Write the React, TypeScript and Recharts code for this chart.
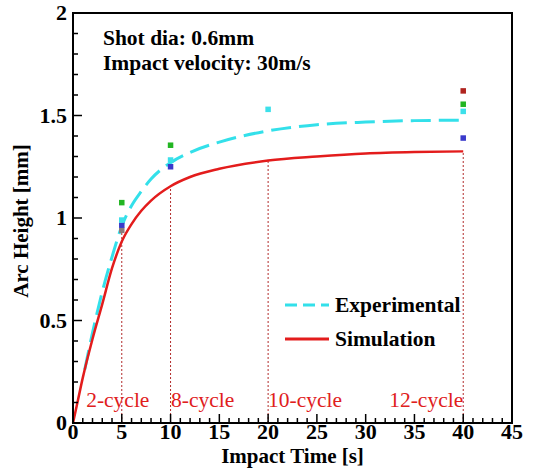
import React from "react"
import {
  ComposedChart,
  Line,
  Scatter,
  XAxis,
  YAxis,
  Legend,
  Label,
  ReferenceLine,
  ReferenceArea,
  ReferenceDot,
} from "recharts"

const FONT = '"Liberation Serif", "Times New Roman", serif'

// curve readings (time [s] -> arc height [mm])
const expTime = [1.2, 2, 3, 4, 5, 6, 7, 8, 10, 12, 15, 20, 25, 30, 35, 40]
const expHeight = [0.26, 0.44, 0.64, 0.81, 0.96, 1.06, 1.13, 1.19, 1.27, 1.32, 1.37, 1.425, 1.455, 1.468, 1.475, 1.477]

const simTime = [0, 0.5, 1, 2, 3, 4, 5, 6, 7, 8, 10, 12, 15, 20, 25, 30, 35, 40]
const simHeight = [0, 0.11, 0.22, 0.41, 0.58, 0.755, 0.885, 0.97, 1.035, 1.085, 1.155, 1.2, 1.24, 1.28, 1.3, 1.315, 1.322, 1.325]

// measured samples, one list per marker colour
const greenPts = [
  { t: 5, v: 1.075 },
  { t: 10, v: 1.355 },
  { t: 40, v: 1.555 },
]
const cyanPts = [
  { t: 5, v: 0.99 },
  { t: 10, v: 1.283 },
  { t: 20, v: 1.53 },
  { t: 40, v: 1.52 },
]
const bluePts = [
  { t: 5, v: 0.965 },
  { t: 10, v: 1.25 },
  { t: 40, v: 1.39 },
]
const darkRedPts = [{ t: 40, v: 1.62 }]
const grayPts = [{ t: 5, v: 0.94 }]

const cycleTimes = [5, 10, 20, 40]
const cycleTops = [0.94, 1.155, 1.28, 1.32]
const cycleLabels = ["2-cycle", "8-cycle", "10-cycle", "12-cycle"]
const cycleLabelX = [1.35, 10.05, 20.0, 40]

const xTicks = [
  0, 1, 2, 3, 4, 5, 6, 7, 8, 9, 10, 11, 12, 13, 14, 15, 16, 17, 18, 19, 20, 21, 22, 23,
  24, 25, 26, 27, 28, 29, 30, 31, 32, 33, 34, 35, 36, 37, 38, 39, 40, 41, 42, 43, 44, 45,
]
const xLabels = [0, 5, 10, 15, 20, 25, 30, 35, 40, 45]
const yTicks = [0, 0.1, 0.2, 0.3, 0.4, 0.5, 0.6, 0.7, 0.8, 0.9, 1, 1.1, 1.2, 1.3, 1.4, 1.5, 1.6, 1.7, 1.8, 1.9, 2]
const yLabels = [0, 0.5, 1, 1.5, 2]

const expData = expTime.map((t, i) => ({ t, v: expHeight[i] }))
const simData = simTime.map((t, i) => ({ t, v: simHeight[i] }))

const RED = "#e31c1c"
const CYAN = "#33e0ea"
const DOT_RED = "#b22b2b"

const legendStyles: Record<string, { color: string; dash?: string }> = {
  Experimental: { color: CYAN, dash: "12 6" },
  Simulation: { color: RED },
}

const XTick = (props: any) => {
  const { x, y, payload } = props
  const major = xLabels.includes(payload.value)
  return (
    <g>
      <line x1={x} x2={x} y1={y} y2={y - (major ? 9 : 5)} stroke="#000" strokeWidth={1.5} />
      {major && (
        <text x={x} y={y + 16} textAnchor="middle" fontFamily={FONT} fontWeight="bold" fontSize={22} fill="#000">
          {payload.value}
        </text>
      )}
    </g>
  )
}

const YTick = (props: any) => {
  const { x, y, payload } = props
  const major = yLabels.some((l) => Math.abs(l - payload.value) < 1e-6)
  return (
    <g>
      <line x1={x} x2={x + (major ? 9 : 5)} y1={y} y2={y} stroke="#000" strokeWidth={1.5} />
      {major && (
        <text x={x - 6} y={y + 7} textAnchor="end" fontFamily={FONT} fontWeight="bold" fontSize={22} fill="#000">
          {payload.value}
        </text>
      )}
    </g>
  )
}

const square = (fill: string) => (p: any) => (
  <rect x={p.cx - 2.75} y={p.cy - 2.75} width={5.5} height={5.5} fill={fill} />
)

const renderLegend = (props: any) => {
  const items = (props.payload || []).filter((e: any) => legendStyles[e.value])
  return (
    <div>
      {items.map((e: any) => {
        const s = legendStyles[e.value]
        return (
          <div key={e.value} style={{ display: "flex", alignItems: "center", height: 34 }}>
            <svg width={48} height={10}>
              <line x1={2} x2={46} y1={5} y2={5} stroke={s.color} strokeWidth={3} strokeDasharray={s.dash} />
            </svg>
            <span style={{ fontFamily: FONT, fontWeight: "bold", fontSize: 21.5, color: "#000", marginLeft: 4 }}>
              {e.value}
            </span>
          </div>
        )
      })}
    </div>
  )
}

const textAt = (text: string, anchor: string, opts: any) => (p: any) => (
  <text x={p.viewBox.x} y={p.viewBox.y} textAnchor={anchor} fontFamily={FONT} {...opts}>
    {text}
  </text>
)

export default function App() {
  return (
    <div style={{ position: "absolute", left: 0, top: 0, width: 533, height: 471, background: "#fff" }}>
      <ComposedChart width={533} height={471} margin={{ top: 13, right: 21, bottom: 0, left: 0 }}>
        <XAxis
          dataKey="t"
          type="number"
          domain={[0, 45]}
          ticks={xTicks}
          interval={0}
          tickSize={0}
          tickMargin={0}
          tick={<XTick />}
          axisLine={{ stroke: "#000", strokeWidth: 2 }}
          height={48}
        >
          <Label
            content={(p: any) => (
              <text
                x={p.viewBox.x + p.viewBox.width / 2}
                y={p.viewBox.y + 40}
                textAnchor="middle"
                fontFamily={FONT}
                fontWeight="bold"
                fontSize={21}
                fill="#000"
              >
                Impact Time [s]
              </text>
            )}
          />
        </XAxis>
        <YAxis
          dataKey="v"
          type="number"
          domain={[0, 2]}
          ticks={yTicks}
          interval={0}
          tickSize={0}
          tickMargin={0}
          tick={<YTick />}
          axisLine={{ stroke: "#000", strokeWidth: 2 }}
          width={73}
        >
          <Label
            content={(p: any) => {
              const cx = 28
              const cy = p.viewBox.y + p.viewBox.height / 2 + 3
              return (
                <text
                  x={cx}
                  y={cy}
                  transform={`rotate(-90 ${cx} ${cy})`}
                  textAnchor="middle"
                  fontFamily={FONT}
                  fontWeight="bold"
                  fontSize={21}
                  fill="#000"
                >
                  Arc Height [mm]
                </text>
              )
            }}
          />
        </YAxis>

        <ReferenceArea x1={0} x2={45} y1={0} y2={2} fill="none" stroke="#000" strokeWidth={2} />

        {cycleTimes.map((t, i) => (
          <ReferenceLine
            key={`cl-${t}`}
            segment={[
              { x: t, y: 0 },
              { x: t, y: cycleTops[i] },
            ]}
            stroke={DOT_RED}
            strokeWidth={1}
            strokeDasharray="2 2"
          />
        ))}
        {cycleLabels.map((lab, i) => (
          <ReferenceDot
            key={lab}
            x={cycleLabelX[i]}
            y={0.078}
            r={0}
            stroke="none"
            label={{ content: textAt(lab, i === 3 ? "end" : "start", { fill: "#e0201c", fontSize: 21.5 }) }}
          />
        ))}

        <ReferenceDot
          x={3.07}
          y={1.845}
          r={0}
          stroke="none"
          label={{ content: textAt("Shot dia: 0.6mm", "start", { fontWeight: "bold", fill: "#000", fontSize: 21.5 }) }}
        />
        <ReferenceDot
          x={3.07}
          y={1.72}
          r={0}
          stroke="none"
          label={{
            content: textAt("Impact velocity: 30m/s", "start", { fontWeight: "bold", fill: "#000", fontSize: 21.5 }),
          }}
        />

        <Line
          data={expData}
          dataKey="v"
          name="Experimental"
          type="monotone"
          stroke={CYAN}
          strokeWidth={3}
          strokeDasharray="20 8"
          dot={false}
          isAnimationActive={false}
        />
        <Line
          data={simData}
          dataKey="v"
          name="Simulation"
          type="monotone"
          stroke={RED}
          strokeWidth={2.5}
          dot={false}
          isAnimationActive={false}
        />

        <Scatter data={grayPts} legendType="none" fill="#8a7c7c" shape={square("#8a7c7c")} isAnimationActive={false} />
        <Scatter data={bluePts} legendType="none" fill="#3a3acb" shape={square("#3a3acb")} isAnimationActive={false} />
        <Scatter data={cyanPts} legendType="none" fill="#3ce0ea" shape={square("#3ce0ea")} isAnimationActive={false} />
        <Scatter data={greenPts} legendType="none" fill="#22b522" shape={square("#22b522")} isAnimationActive={false} />
        <Scatter data={darkRedPts} legendType="none" fill="#b0241f" shape={square("#b0241f")} isAnimationActive={false} />

        <Legend
          layout="vertical"
          align="center"
          verticalAlign="middle"
          content={renderLegend}
          wrapperStyle={{ left: 283, top: 288, width: 220 }}
        />
      </ComposedChart>
    </div>
  )
}
